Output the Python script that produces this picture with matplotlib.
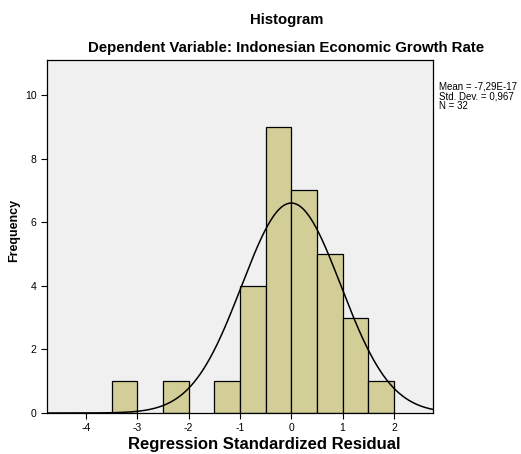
import numpy as np
import matplotlib
matplotlib.use("Agg")
import matplotlib.pyplot as plt

plt.rcParams["font.family"] = ["Liberation Sans", "DejaVu Sans"]
plt.rcParams["axes.unicode_minus"] = False

# histogram bins (width 0.5) and frequencies
bin_left = [-3.5, -2.5, -1.5, -1.0, -0.5, 0.0, 0.5, 1.0, 1.5]
freq = [1, 1, 1, 4, 9, 7, 5, 3, 1]
bin_width = 0.5
mean = -7.29e-17
std_dev = 0.967
n_obs = 32
x_ticks = [-4, -3, -2, -1, 0, 1, 2]
y_ticks = [0, 2, 4, 6, 8, 10]

fig = plt.figure(figsize=(5.21, 4.54), dpi=100)
ax = fig.add_axes([0.0902, 0.0903, 0.7408, 0.7777])
ax.set_facecolor("#f0f0f0")

ax.bar(bin_left, freq, width=bin_width, align="edge", color="#d3ce97",
       edgecolor="black", linewidth=0.9, zorder=2)

xs = np.linspace(-4.76, 2.76, 400)
ys = n_obs * bin_width * np.exp(-0.5 * ((xs - mean) / std_dev) ** 2) / (std_dev * np.sqrt(2 * np.pi))
ax.plot(xs, ys, color="black", linewidth=1.1, zorder=3)

ax.set_xlim(-4.76, 2.76)
ax.set_ylim(0, 11.1)
ax.set_xticks(x_ticks)
ax.set_yticks(y_ticks)
ax.tick_params(direction="out", length=4, width=0.8, labelsize=7.5, colors="black")
for s in ax.spines.values():
    s.set_linewidth(0.9)

fig.text(0.507, 0.021, "Regression Standardized Residual", ha="center", va="center",
         fontsize=12, fontweight="bold")
fig.text(0.027, 0.493, "Frequency", ha="center", va="center", rotation=90,
         fontsize=9, fontweight="bold")

fig.text(0.551, 0.956, "Histogram", ha="center", va="center", fontsize=10.7, fontweight="bold")
fig.text(0.549, 0.895, "Dependent Variable: Indonesian Economic Growth Rate",
         ha="center", va="center", fontsize=10.8, fontweight="bold")

fig.text(0.843, 0.82, "Mean = -7,29E-17\nStd. Dev. = 0,967\nN = 32",
         ha="left", va="top", fontsize=7, linespacing=0.95)

fig.savefig("out.png", dpi=100)
